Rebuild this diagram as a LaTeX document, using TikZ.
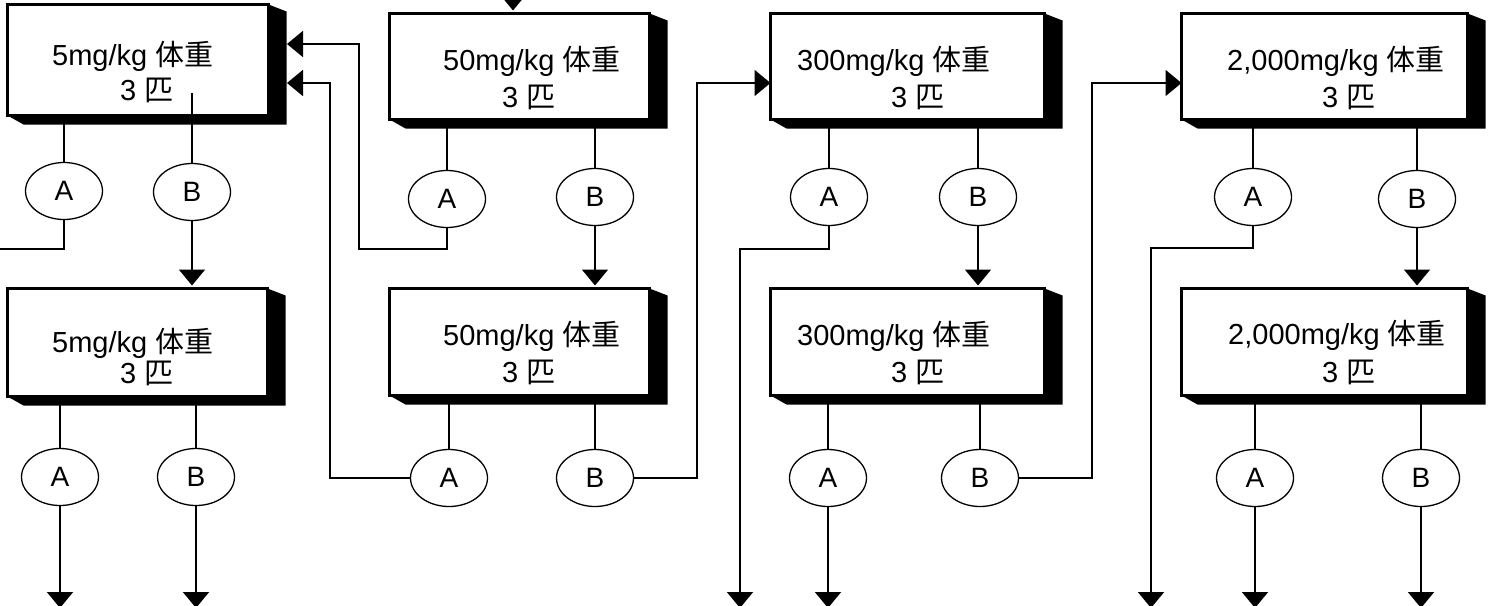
\documentclass[tikz,border=0pt]{standalone}
\usepackage{fontspec}
\setmainfont{Liberation Sans}
\newfontfamily\cjk{Noto Sans CJK JP}
\usetikzlibrary{arrows.meta,shapes.geometric,backgrounds,calc}
\newcommand\boxshade[1]{\fill (#1.north east) -- ++(18,7) -- ($(#1.south east)+(18,9)$) -- ($(#1.south west)+(16,9)$) -- (#1.south west) -- cycle;}
\begin{document}
\begin{tikzpicture}[x=1pt,y=-1pt,
 box/.style={draw, line width=3.2pt, fill=white, rectangle, inner sep=0pt, outer sep=0pt},
 ell/.style={draw, ellipse, line width=1.3pt, fill=white, minimum width=77pt, minimum height=57pt, inner sep=0pt, outer sep=0pt, font=\fontsize{28}{30}\selectfont},
 lbl/.style={anchor=base west, inner sep=0pt, font=\fontsize{29}{34}\selectfont},
 conn/.style={line width=1.4pt},
 arr/.style={line width=1.8pt, -{Triangle[length=16pt,width=26pt]}},
]
\useasboundingbox (0,0) rectangle (1490,605);
% boxes
\node[box, minimum width=261pt, minimum height=111pt] (b1) at (138,60) {};
\node[box, minimum width=260pt, minimum height=106pt] (b2) at (519.5,66.5) {};
\node[box, minimum width=274pt, minimum height=106pt] (b3) at (907.5,66.5) {};
\node[box, minimum width=286pt, minimum height=106pt] (b4) at (1324.5,66.5) {};
\node[box, minimum width=260pt, minimum height=108pt] (b5) at (137.5,342.5) {};
\node[box, minimum width=260pt, minimum height=107pt] (b6) at (519.5,342) {};
\node[box, minimum width=274pt, minimum height=107pt] (b7) at (907.5,342) {};
\node[box, minimum width=286pt, minimum height=107pt] (b8) at (1324.5,342) {};
\begin{scope}[on background layer]
\boxshade{b1}\boxshade{b2}\boxshade{b3}\boxshade{b4}
\boxshade{b5}\boxshade{b6}\boxshade{b7}\boxshade{b8}
\end{scope}
% labels
\node[lbl] (t1a) at (52,65) {5mg/kg {\cjk 体重}};
\node[lbl] (t1b) at (120,100) {3 {\cjk 匹}};
\node[lbl] (t2a) at (443,70) {50mg/kg {\cjk 体重}};
\node[lbl] (t2b) at (502,107) {3 {\cjk 匹}};
\node[lbl] (t3a) at (797,70) {300mg/kg {\cjk 体重}};
\node[lbl] (t3b) at (891,107) {3 {\cjk 匹}};
\node[lbl] (t4a) at (1227,70) {2,000mg/kg {\cjk 体重}};
\node[lbl] (t4b) at (1322,107) {3 {\cjk 匹}};
\node[lbl] (t5a) at (52,352) {5mg/kg {\cjk 体重}};
\node[lbl] (t5b) at (120,383) {3 {\cjk 匹}};
\node[lbl] (t6a) at (443,345) {50mg/kg {\cjk 体重}};
\node[lbl] (t6b) at (502,382) {3 {\cjk 匹}};
\node[lbl] (t7a) at (797,345) {300mg/kg {\cjk 体重}};
\node[lbl] (t7b) at (891,382) {3 {\cjk 匹}};
\node[lbl] (t8a) at (1228,344) {2,000mg/kg {\cjk 体重}};
\node[lbl] (t8b) at (1322,382) {3 {\cjk 匹}};
% ellipses
\node[ell] (a1) at (64,191) {A};
\node[ell] (c1) at (192,192) {B};
\node[ell] (a2) at (447,199) {A};
\node[ell] (c2) at (595,197) {B};
\node[ell] (a3) at (829,197) {A};
\node[ell] (c3) at (978,197) {B};
\node[ell] (a4) at (1253,197) {A};
\node[ell] (c4) at (1417,199) {B};
\node[ell] (a5) at (60,477) {A};
\node[ell] (c5) at (196,477) {B};
\node[ell] (a6) at (449,478) {A};
\node[ell] (c6) at (595,478) {B};
\node[ell] (a7) at (828,478) {A};
\node[ell] (c7) at (980,478) {B};
\node[ell] (a8) at (1255,478) {A};
\node[ell] (c8) at (1421,478) {B};
% helper coordinates
\coordinate (bot) at (0,608);
\coordinate (top2) at (513,-30);
\coordinate (b1in) at (192,93);
\coordinate (a1end) at (-10,249);
\coordinate (j1) at (359,249);
\coordinate (in1) at (287,44);
\coordinate (j2) at (330,83);
\coordinate (in2) at (287,83);
\coordinate (j3) at (697,83);
\coordinate (j4) at (1092,83);
\coordinate (j5) at (740,249);
\coordinate (j6) at (1151,248);
% stems from boxes to ellipses
\foreach \e/\b in {a1/b1,a2/b2,c2/b2,a3/b3,c3/b3,a4/b4,c4/b4,a5/b5,c5/b5,a6/b6,c6/b6,a7/b7,c7/b7,a8/b8,c8/b8}
  \draw[conn] (\e.north |- \b.south) -- (\e.north);
\draw[conn] (b1in) -- (c1.north);
% connectors
\draw[conn] (a1.south) |- (a1end);
\draw[arr, shorten >=3pt] (c1.south) -- (c1.south |- b5.north);
\draw[arr, shorten >=3pt] (top2) -- (top2 |- b2.north);
\draw[arr] (a2.south) |- (j1) |- (in1);
\draw[arr, shorten >=3pt] (c2.south) -- (c2.south |- b6.north);
\draw[arr] (a6.west) -| (j2) -- (in2);
\draw[arr] (c6.east) -| (j3) -- (j3 -| b3.west);
\draw[arr] (a3.south) |- (j5) -- (j5 |- bot);
\draw[arr, shorten >=3pt] (c3.south) -- (c3.south |- b7.north);
\draw[arr] (c7.east) -| (j4) -- (j4 -| b4.west);
\draw[arr] (a4.south) |- (j6) -- (j6 |- bot);
\draw[arr, shorten >=3pt] (c4.south) -- (c4.south |- b8.north);
\foreach \e in {a5,c5,a7,a8,c8}
  \draw[arr] (\e.south) -- (\e.south |- bot);
\end{tikzpicture}
\end{document}
